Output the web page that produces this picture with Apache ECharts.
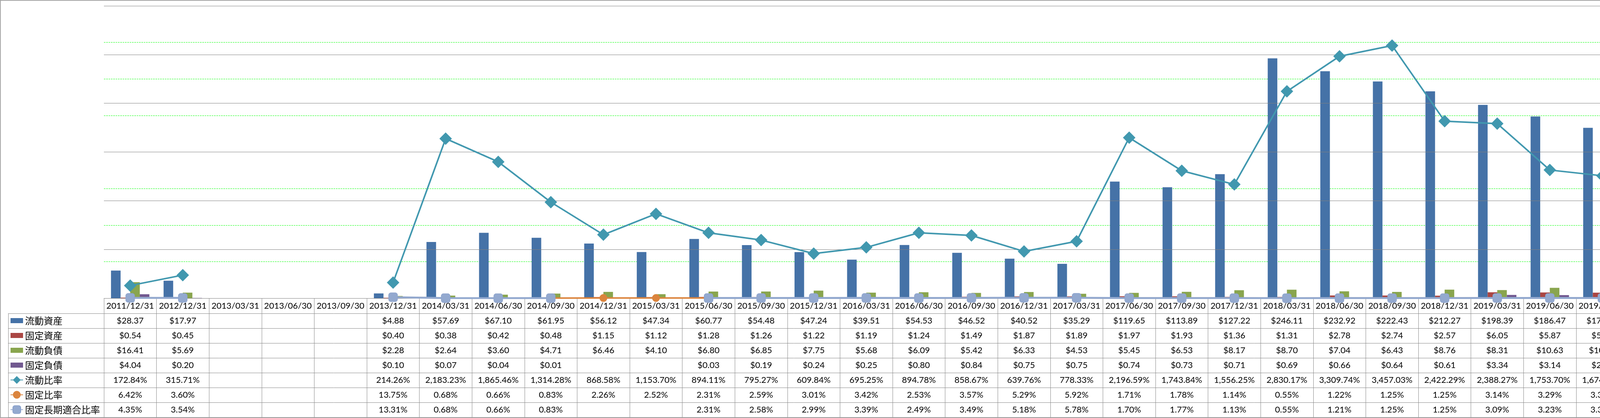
<!DOCTYPE html>
<html>
<head>
<meta charset="utf-8">
<script src="https://cdn.jsdelivr.net/npm/echarts@6/dist/echarts.min.js"></script>
<style>
html,body{margin:0;padding:0;background:#fff;}
#chart{width:5227px;height:1071px;}
</style>
</head>
<body>
<div id="chart"></div>
<script>
// ---------- data ----------
const categories = ['2011/12/31','2012/12/31','2013/03/31','2013/06/30','2013/09/30','2013/12/31','2014/03/31','2014/06/30','2014/09/30','2014/12/31','2015/03/31','2015/06/30','2015/09/30','2015/12/31','2016/03/31','2016/06/30','2016/09/30','2016/12/31','2017/03/31','2017/06/30','2017/09/30','2017/12/31','2018/03/31','2018/06/30','2018/09/30','2018/12/31','2019/03/31','2019/06/30','2019/09/30','2019/12/31','2020/03/31','2020/06/30','2020/09/30','2020/12/31','2021/03/31'];
const currentAssets = [28.37,17.97,null,null,null,4.88,57.69,67.10,61.95,56.12,47.34,60.77,54.48,47.24,39.51,54.53,46.52,40.52,35.29,119.65,113.89,127.22,246.11,232.92,222.43,212.27,198.39,186.47,174.80,162.53,156.88,153.36,145.64,138.27,133.71];
const fixedAssets = [0.54,0.45,null,null,null,0.40,0.38,0.42,0.48,1.15,1.12,1.28,1.26,1.22,1.19,1.24,1.49,1.87,1.89,1.97,1.93,1.36,1.31,2.78,2.74,2.57,6.05,5.87,5.66,5.44,5.22,4.99,4.78,4.56,4.31];
const currentLiabilities = [16.41,5.69,null,null,null,2.28,2.64,3.60,4.71,6.46,4.10,6.80,6.85,7.75,5.68,6.09,5.42,6.33,4.53,5.45,6.53,8.17,8.70,7.04,6.43,8.76,8.31,10.63,10.44,10.95,10.61,9.70,9.82,12.43,10.84];
const fixedLiabilities = [4.04,0.20,null,null,null,0.10,0.07,0.04,0.01,null,null,0.03,0.19,0.24,0.25,0.80,0.84,0.75,0.75,0.74,0.73,0.71,0.69,0.66,0.64,0.61,3.34,3.14,2.94,2.82,3.00,2.90,2.34,2.18,2.05];
const currentRatio = [172.84,315.71,null,null,null,214.26,2183.23,1865.46,1314.28,868.58,1153.70,894.11,795.27,609.84,695.25,894.78,858.67,639.76,778.33,2196.59,1743.84,1556.25,2830.17,3309.74,3457.03,2422.29,2388.27,1753.70,1674.89,1484.19,1478.30,1580.80,1483.38,1112.56,1233.23];
const fixedRatio = [6.42,3.60,null,null,null,13.75,0.68,0.66,0.83,2.26,2.52,2.31,2.59,3.01,3.42,2.53,3.57,5.29,5.92,1.71,1.78,1.14,0.55,1.22,1.25,1.25,3.14,3.29,3.39,3.53,3.51,3.43,3.45,3.56,3.45];
const fixedLongTermRatio = [4.35,3.54,null,null,null,13.31,0.68,0.66,0.83,null,null,2.31,2.58,2.99,3.39,2.49,3.49,5.18,5.78,1.70,1.77,1.13,0.55,1.21,1.25,1.25,3.09,3.23,3.33,3.47,3.44,3.36,3.40,3.50,3.39];
const seriesNames = ['流動資産','固定資産','流動負債','固定負債','流動比率','固定比率','固定長期適合比率'];
const unitText = '（単位：百万USD）';
const moneyAxis = {min:0, max:300, interval:50};
const ratioAxis = {min:0, max:4000, interval:500};

// ---------- styles ----------
const colors = ['#4572A7','#AA4643','#89A54E','#71588F','#4198AF','#DB843D','#93A9CF'];
const LATIN = 'Lato, "Liberation Sans", sans-serif';
const CJK = '"Noto Sans CJK JP", sans-serif';
const GRID_LEFT = 266, GRID_RIGHT = 250, GRID_TOP = 15, GRID_BOTTOM = 307;
const HEAD_H = 39, ROW_H = 38;
const BORDER = '#888888';
const BAR_ICON = 'path://M0 0H32V13H0Z';

const fmtMoney = v => v == null ? '' : '$' + v.toFixed(2);
const fmtPct = v => v == null ? '' : v.toLocaleString('en-US',{minimumFractionDigits:2, maximumFractionDigits:2}) + '%';
const tableRows = [
  [currentAssets, fmtMoney],
  [fixedAssets, fmtMoney],
  [currentLiabilities, fmtMoney],
  [fixedLiabilities, fmtMoney],
  [currentRatio, fmtPct],
  [fixedRatio, fmtPct],
  [fixedLongTermRatio, fmtPct]
];

const xAxes = [];
// header row: category labels
xAxes.push({
  type:'category', gridIndex:0, position:'bottom', offset:0, data:categories,
  axisLine:{show:true, onZero:false, lineStyle:{color:BORDER, width:1}},
  axisTick:{show:true, interval:0, length:HEAD_H, lineStyle:{color:BORDER}},
  axisLabel:{interval:0, margin:9, fontSize:22, color:'#000', fontFamily:LATIN},
  splitLine:{show:false}
});
// data table rows
tableRows.forEach((r, k) => {
  const arr = r[0], fmt = r[1];
  xAxes.push({
    type:'category', gridIndex:0, position:'bottom', offset:HEAD_H + ROW_H*k, data:categories,
    axisLine:{show:true, onZero:false, lineStyle:{color:BORDER, width:1}},
    axisTick:{show:true, interval:0, length:ROW_H, lineStyle:{color:BORDER}},
    axisLabel:{interval:0, margin:8, fontSize:22, color:'#000', fontFamily:LATIN,
      formatter:(v, i) => fmt(arr[i])},
    splitLine:{show:false}
  });
});
// bottom line of table
xAxes.push({
  type:'category', gridIndex:0, position:'bottom', offset:HEAD_H + ROW_H*tableRows.length, data:categories,
  axisLine:{show:true, onZero:false, lineStyle:{color:BORDER, width:1}},
  axisTick:{show:false}, axisLabel:{show:false}, splitLine:{show:false}
});
// borders of the legend column of the table
for (let k = 0; k <= tableRows.length; k++) {
  xAxes.push({
    type:'category', gridIndex:1, position:'bottom', offset:HEAD_H + ROW_H*k, data:[''],
    axisLine:{show:true, onZero:false, lineStyle:{color:BORDER, width:1}},
    axisTick:{show:k < tableRows.length, interval:0, length:ROW_H, lineStyle:{color:BORDER}},
    axisLabel:{show:false}, splitLine:{show:false}
  });
}

const legendData = seriesNames.map((n, i) => i < 4 ? {name:n, icon:BAR_ICON} : {name:n});
const legendBase = {
  orient:'vertical', top:764 + HEAD_H + 6, padding:0,
  itemWidth:32, itemHeight:25, itemGap:13, selectedMode:false,
  textStyle:{fontSize:24, lineHeight:25, color:'#000', fontFamily:CJK},
  data:legendData
};

const barBase = {type:'bar', xAxisIndex:0, yAxisIndex:0, barGap:'0%', barCategoryGap:'27%', silent:true};
const lineBase = {type:'line', xAxisIndex:0, yAxisIndex:1, connectNulls:false, silent:true, showAllSymbol:true};

const option = {
  animation:false,
  backgroundColor:'#ffffff',
  color:colors,
  title:{text:unitText, left:4995, top:781, padding:0,
    textStyle:{fontSize:19, fontWeight:'normal', color:'#000', fontFamily:CJK}},
  grid:[
    {left:GRID_LEFT, right:GRID_RIGHT, top:GRID_TOP, bottom:GRID_BOTTOM, containLabel:false},
    {left:21, width:GRID_LEFT-21, top:GRID_TOP, bottom:GRID_BOTTOM, containLabel:false}
  ],
  legend:[
    Object.assign({}, legendBase, {left:26}),
    Object.assign({}, legendBase, {left:4983})
  ],
  xAxis:xAxes,
  yAxis:[
    {type:'value', gridIndex:0, position:'right', min:moneyAxis.min, max:moneyAxis.max, interval:moneyAxis.interval,
      axisLine:{show:true, lineStyle:{color:BORDER, width:1}},
      axisTick:{show:false},
      axisLabel:{align:'right', margin:73, fontSize:22, color:'#000', fontFamily:LATIN, formatter:v => '$' + v},
      splitLine:{show:true, lineStyle:{color:'#808080', width:1.2}}, z:3},
    {type:'value', gridIndex:0, position:'right', offset:77, min:ratioAxis.min, max:ratioAxis.max, interval:ratioAxis.interval,
      axisLine:{show:true, lineStyle:{color:'#00ff00', width:1, type:[4,2]}},
      axisTick:{show:true, length:4, lineStyle:{color:'#00ff00'}},
      axisLabel:{margin:23, fontSize:22, color:'#000', fontFamily:LATIN, formatter:v => v.toLocaleString('en-US') + '%'},
      splitLine:{show:true, lineStyle:{color:'#00ff00', width:1, type:[4,2]}}},
    {type:'value', gridIndex:1, show:false}
  ],
  series:[
    Object.assign({}, barBase, {name:seriesNames[0], data:currentAssets}),
    Object.assign({}, barBase, {name:seriesNames[1], data:fixedAssets}),
    Object.assign({}, barBase, {name:seriesNames[2], data:currentLiabilities}),
    Object.assign({}, barBase, {name:seriesNames[3], data:fixedLiabilities}),
    Object.assign({}, lineBase, {name:seriesNames[4], data:currentRatio, symbol:'diamond', symbolSize:32,
      lineStyle:{width:4, color:colors[4]}, itemStyle:{color:colors[4]}}),
    Object.assign({}, lineBase, {name:seriesNames[5], data:fixedRatio, symbol:'circle', symbolSize:20,
      lineStyle:{width:4, color:colors[5]}, itemStyle:{color:colors[5]}}),
    Object.assign({}, lineBase, {name:seriesNames[6], data:fixedLongTermRatio, symbol:'roundRect', symbolSize:23,
      lineStyle:{width:5, color:colors[6]}, itemStyle:{color:colors[6], borderColor:'#8AA1CB', borderWidth:1}})
  ],
  graphic:[
    {type:'rect', silent:true, z:-1, shape:{x:1, y:1, width:5225, height:1069},
      style:{fill:'none', stroke:BORDER, lineWidth:1.5}}
  ]
};

const chart = echarts.init(document.getElementById('chart'), null, {renderer:'canvas'});
chart.setOption(option);
</script>
</body>
</html>
